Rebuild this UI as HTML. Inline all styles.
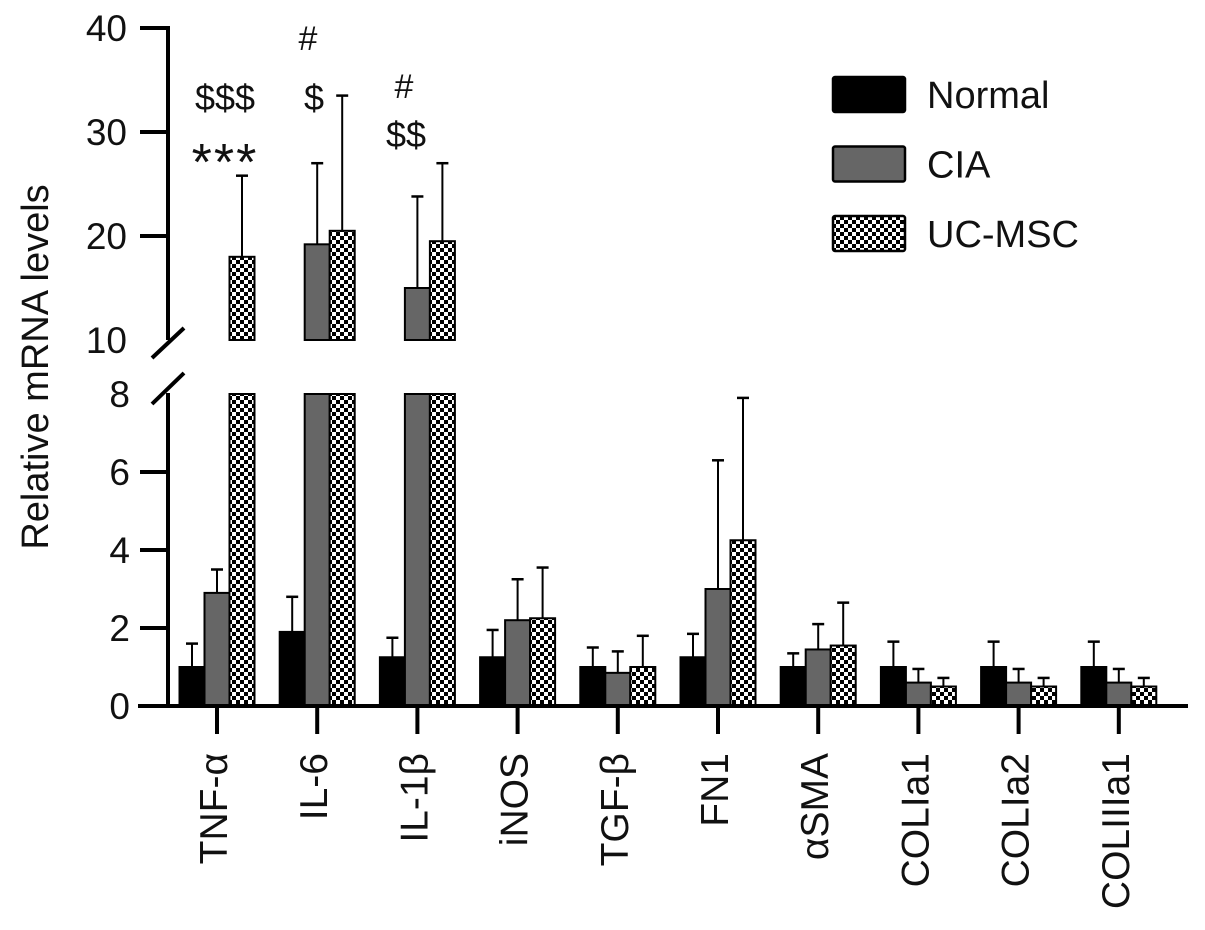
<!DOCTYPE html>
<html><head><meta charset="utf-8"><style>
html,body{margin:0;padding:0;background:#fff}
svg text{font-family:"Liberation Sans",Arial,sans-serif;fill:#111}
</style></head><body>
<svg id="chart" width="1205" height="925" viewBox="0 0 1205 925" xmlns="http://www.w3.org/2000/svg">
<defs>
<pattern id="chk" width="8" height="8" patternUnits="userSpaceOnUse">
<rect width="8" height="8" fill="#fff"/>
<rect width="4" height="4" fill="#000"/>
<rect x="4" y="4" width="4" height="4" fill="#000"/>
</pattern>
</defs>
<g id="g"></g>
</svg>
<script>
const categories=["TNF-α","IL-6","IL-1β","iNOS","TGF-β","FN1","αSMA","COLIa1","COLIa2","COLIIIa1"];
const normalVals=[1.0,1.9,1.25,1.25,1.0,1.25,1.0,1.0,1.0,1.0];
const normalErr=[1.6,2.8,1.75,1.95,1.5,1.85,1.35,1.65,1.65,1.65];
const ciaVals=[2.9,19.2,15.0,2.2,0.85,3.0,1.45,0.6,0.6,0.6];
const ciaErr=[3.5,27.0,23.8,3.25,1.4,6.3,2.1,0.95,0.95,0.95];
const ucVals=[18.0,20.5,19.5,2.25,1.0,4.25,1.55,0.5,0.5,0.5];
const ucErr=[25.8,33.5,27.0,3.55,1.8,7.9,2.65,0.72,0.72,0.72];
const lowTicks=[0,2,4,6,8];
const highTicks=[10,20,30,40];
const seriesNames=["Normal","CIA","UC-MSC"];
const annotations=[["***","$$$"],["$","#"],["$$","#"]];

const NS="http://www.w3.org/2000/svg";
const g=document.getElementById('g');
function el(t,a,txt){const e=document.createElementNS(NS,t);for(const k in a)e.setAttribute(k,a[k]);if(txt!==undefined)e.textContent=txt;g.appendChild(e);return e;}
const AX=168;
function yLow(v){return 706-v*39.0;}
function yHigh(v){return 340-(v-10)*10.4;}
function yv(v){return v<=8?yLow(v):(v<10?yLow(8):yHigh(v));}
function xc(i){return 217+i*100.2;}
const BW=25;
const fills=["#000","#666","url(#chk)"];
const vals=[normalVals,ciaVals,ucVals], errs=[normalErr,ciaErr,ucErr];
const snames=["normal","cia","uc-msc"];
for(let i=0;i<categories.length;i++){
  for(let s=0;s<3;s++){
    const x=xc(i)-37.5+s*BW, v=vals[s][i], e=errs[s][i], cx=x+BW/2;
    let l=el('line',{x1:cx,x2:cx,y1:yv(v),y2:yv(e),stroke:'#000','stroke-width':2});
    
    
    l=el('line',{x1:cx-6,x2:cx+6,y1:yv(e),y2:yv(e),stroke:'#000','stroke-width':2.5});
    
    
    if(v<=8){
      const r=el('rect',{x:x,y:yLow(v),width:BW,height:yLow(0)-yLow(v),fill:fills[s],stroke:'#000','stroke-width':2});
      
      
    } else {
      const r=el('rect',{x:x,y:yLow(8),width:BW,height:yLow(0)-yLow(8),fill:fills[s],stroke:'#000','stroke-width':2});
      
      
      const r2=el('rect',{x:x,y:yHigh(v),width:BW,height:yHigh(10)-yHigh(v),fill:fills[s],stroke:'#000','stroke-width':2});
      
      
    }
  }
  let t=el('line',{x1:xc(i),x2:xc(i),y1:706,y2:734,stroke:'#000','stroke-width':4});
  
  
  const lx=xc(i)+10, ly=753;
  t=el('text',{x:lx,y:ly,'font-size':39,'text-anchor':'end',transform:`rotate(-90 ${lx} ${ly})`},categories[i]);
  
  
}
let a=el('line',{x1:138,x2:1188,y1:706,y2:706,stroke:'#000','stroke-width':4});

a=el('line',{x1:AX,x2:AX,y1:393,y2:706,stroke:'#000','stroke-width':4});

a=el('line',{x1:AX,x2:AX,y1:26,y2:340,stroke:'#000','stroke-width':4});

a=el('line',{x1:152,x2:184,y1:358,y2:328,stroke:'#000','stroke-width':4});

a=el('line',{x1:152,x2:184,y1:404,y2:373,stroke:'#000','stroke-width':4});

lowTicks.forEach(v=>{
  if(v!==8&&v!==0){const t=el('line',{x1:140,x2:AX,y1:yLow(v),y2:yLow(v),stroke:'#000','stroke-width':4});
  }
  const l=el('text',{x:130,y:yLow(v)+13,'font-size':37,'text-anchor':'end'},String(v));
  
});
highTicks.forEach(v=>{
  if(v!==10){const t=el('line',{x1:140,x2:AX,y1:yHigh(v),y2:yHigh(v),stroke:'#000','stroke-width':4});
  }
  const l=el('text',{x:127,y:yHigh(v)+13,'font-size':37,'text-anchor':'end'},String(v));
  
});
let yt=el('text',{x:48,y:367,'font-size':38,'text-anchor':'middle',transform:'rotate(-90 48 367)'},'Relative mRNA levels');

const annPos=[[[225,180,52],[225,110,36]],[[314,110,36],[308,50,34]],[[406,147,36],[404,98,34]]];
annotations.forEach((arr,i)=>arr.forEach((s,k)=>{
  const p=annPos[i][k];
  const t=el('text',{x:p[0],y:p[1],'font-size':p[2],'text-anchor':'middle'},s);
  if(s==='***') t.setAttribute('letter-spacing','2');
  
}));
seriesNames.forEach((n,s)=>{
  const y=77+s*69.5;
  const r=el('rect',{x:833,y:y,width:72,height:35,rx:2,fill:fills[s],stroke:'#000','stroke-width':2.5});
  
  const t=el('text',{x:927,y:y+31,'font-size':38},n);
  
});
</script>
</body></html>
